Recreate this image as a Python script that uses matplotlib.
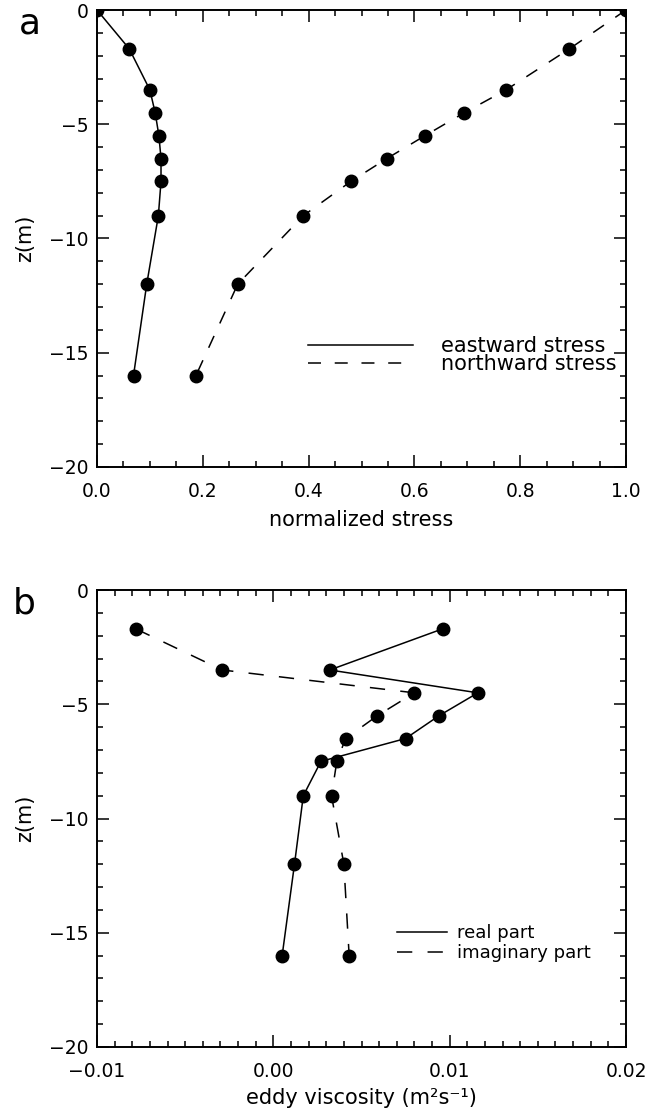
import matplotlib
matplotlib.use('Agg')
import matplotlib.pyplot as plt
from matplotlib.lines import Line2D
from matplotlib.ticker import MultipleLocator, FormatStrFormatter, FuncFormatter

# Panel a: normalized stress profiles
depth_a = [0, -1.7, -3.5, -4.5, -5.5, -6.5, -7.5, -9, -12, -16]
eastward = [0.0, 0.061, 0.100, 0.110, 0.117, 0.121, 0.121, 0.116, 0.094, 0.069]
northward = [1.0, 0.893, 0.773, 0.694, 0.620, 0.548, 0.480, 0.390, 0.266, 0.187]

# Panel b: eddy viscosity profiles
depth_b = [-1.7, -3.5, -4.5, -5.5, -6.5, -7.5, -9, -12, -16]
real_part = [0.0096, 0.0032, 0.0116, 0.0094, 0.0075, 0.0027, 0.0017, 0.0012, 0.0005]
imag_part = [-0.0078, -0.0029, 0.0080, 0.0059, 0.0041, 0.0036, 0.0033, 0.0040, 0.0043]

plt.rcParams['font.family'] = ['DejaVu Sans']


def style_axes(ax, x_major, x_minor):
    for side in ax.spines.values():
        side.set_linewidth(1.4)
    ax.set_ylim(-20, 0)
    ax.yaxis.set_major_locator(MultipleLocator(5))
    ax.yaxis.set_minor_locator(MultipleLocator(1))
    ax.xaxis.set_major_locator(MultipleLocator(x_major))
    ax.xaxis.set_minor_locator(MultipleLocator(x_minor))
    ax.tick_params(which='both', direction='in', top=True, right=True, labelsize=13.5, width=1.1)
    ax.tick_params(which='major', length=8.6)
    ax.tick_params(which='minor', length=4.3)
    ax.tick_params(axis='x', pad=11)
    ax.tick_params(axis='y', pad=6)
    ax.set_ylabel('z(m)', fontsize=15, labelpad=10)


def fmt_minus(v, pos):
    if abs(v) < 1e-12:
        v = 0.0
    return ('%.2f' % v).replace('-', '\u2212')


fig = plt.figure(figsize=(6.47, 11.12), dpi=100)

# --- panel a ---
ax1 = fig.add_axes([97 / 647, 1 - 467 / 1112, 529 / 647, 457 / 1112])
ax1.plot(eastward, depth_a, color='k', lw=1.1, marker='o', ms=9)
ax1.plot(northward, depth_a, color='k', lw=1.1, marker='o', ms=9, dashes=(8.5, 9))
ax1.set_xlim(0, 1)
style_axes(ax1, 0.2, 0.05)
ax1.xaxis.set_major_formatter(FormatStrFormatter('%.1f'))
ax1.set_xlabel('normalized stress', fontsize=15, labelpad=6)
handles = [Line2D([], [], color='k', lw=1.1),
           Line2D([], [], color='k', lw=1.1, dashes=(8.5, 9))]
ax1.legend(handles, ['eastward stress', 'northward stress'], loc='center left',
           bbox_to_anchor=(0.399, 0.245), frameon=False, fontsize=15, borderpad=0,
           borderaxespad=0, handlelength=5.05, handletextpad=1.35, labelspacing=-0.1)
fig.text(19 / 647, 1 - 33 / 1112, 'a', fontsize=26, va='baseline')

# --- panel b ---
ax2 = fig.add_axes([97 / 647, 1 - 1047 / 1112, 529 / 647, 457 / 1112])
ax2.plot(real_part, depth_b, color='k', lw=1.1, marker='o', ms=9)
ax2.plot(imag_part, depth_b, color='k', lw=1.1, marker='o', ms=9, dashes=(10, 10))
ax2.set_xlim(-0.01, 0.02)
style_axes(ax2, 0.01, 0.001)
ax2.xaxis.set_major_formatter(FuncFormatter(fmt_minus))
ax2.set_xlabel('eddy viscosity (m\u00b2s\u207b\u00b9)', fontsize=15, labelpad=5)
handles = [Line2D([], [], color='k', lw=1.1),
           Line2D([], [], color='k', lw=1.1, dashes=(10, 10))]
ax2.legend(handles, ['real part', 'imaginary part'], loc='center left',
           bbox_to_anchor=(0.567, 0.227), frameon=False, fontsize=13, borderpad=0,
           borderaxespad=0, handlelength=2.8, handletextpad=0.55, labelspacing=0.1)
fig.text(13 / 647, 1 - 613 / 1112, 'b', fontsize=26, va='baseline')

plt.savefig('out.png', dpi=100)
